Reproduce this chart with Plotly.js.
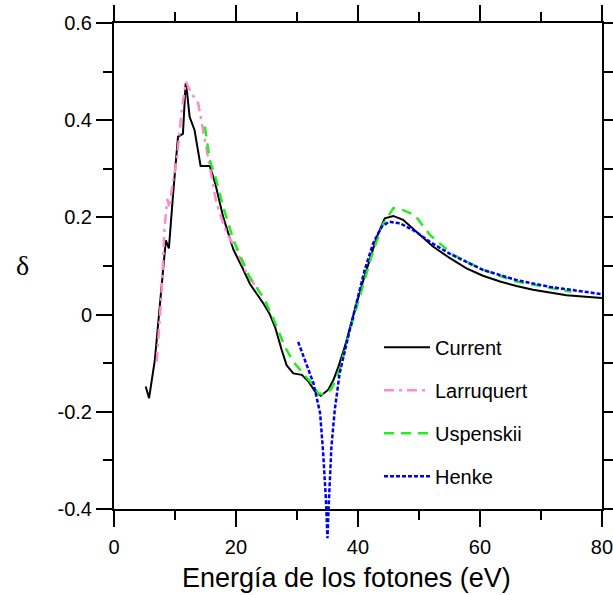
<!DOCTYPE html>
<html>
<head>
<meta charset="utf-8">
<script src="https://cdn.plot.ly/plotly-3.0.1.min.js"></script>
<style>html,body{margin:0;padding:0;background:#fff;}#chart{width:613px;height:595px;}</style>
</head>
<body>
<div id="chart"></div>
<script>
// Current (black solid)
var curE = [5.2, 5.75, 6.7, 7.5, 8.1, 8.5, 9.0, 9.7, 10.5, 11.3, 11.75, 12.0, 12.4, 13.2, 14.2, 15.7, 16.6, 17.9, 19.6, 21.0, 22.3, 23.4, 24.5, 25.5, 26.4, 27.5, 28.3, 29.4, 30.8, 31.9, 33.0, 33.9, 35.1, 36.0, 36.8, 37.8, 38.7, 39.8, 40.9, 42.0, 43.1, 44.4, 45.8, 47.4, 49.6, 52.3, 55.1, 57.8, 60.5, 63.3, 66.0, 68.7, 74.2, 80];
var curD = [-0.148, -0.172, -0.093, 0.009, 0.099, 0.153, 0.136, 0.25, 0.366, 0.372, 0.476, 0.455, 0.407, 0.38, 0.306, 0.306, 0.27, 0.201, 0.133, 0.098, 0.063, 0.043, 0.023, 0.002, -0.025, -0.073, -0.104, -0.121, -0.124, -0.138, -0.159, -0.167, -0.155, -0.134, -0.107, -0.068, -0.025, 0.024, 0.071, 0.118, 0.16, 0.198, 0.203, 0.195, 0.171, 0.14, 0.116, 0.095, 0.080, 0.068, 0.059, 0.051, 0.04, 0.034];
// Larruquert (pink dash-dot)
var larE = [7.0, 7.8, 8.3, 8.75, 9.1, 9.6, 10.3, 11.1, 11.8, 12.7, 13.8, 14.8, 15.7, 16.8, 18.5, 20.1, 21.75, 23.1];
var larD = [-0.097, 0.044, 0.181, 0.238, 0.22, 0.27, 0.318, 0.421, 0.479, 0.455, 0.435, 0.366, 0.298, 0.229, 0.167, 0.133, 0.085, 0.061];
// Uspenskii (green dashed)
var uspE = [14.9, 15.7, 16.6, 17.9, 19.6, 22.2, 24.75, 26.7, 28.0, 29.4, 31.0, 32.4, 33.5, 34.6, 35.7, 37.0, 38.4, 40.3, 42.2, 43.9, 45.8, 47.4, 49.3, 51.8, 55.6, 60.5, 66.0, 72.0, 75.0];
var uspD = [0.387, 0.318, 0.284, 0.222, 0.153, 0.078, 0.030, -0.025, -0.066, -0.097, -0.121, -0.141, -0.162, -0.165, -0.152, -0.114, -0.045, 0.037, 0.119, 0.181, 0.219, 0.215, 0.205, 0.164, 0.123, 0.092, 0.068, 0.054, 0.047];
// Henke (blue dotted)
var henE = [30.2, 31.3, 32.7, 33.8, 34.3, 34.75, 35.0, 35.25, 35.65, 36.2, 37.0, 38.4, 39.8, 41.1, 42.5, 43.9, 45.1, 46.9, 49.3, 52.0, 55.1, 60.5, 66.0, 71.5, 80];
var henD = [-0.056, -0.093, -0.141, -0.203, -0.285, -0.381, -0.46, -0.381, -0.272, -0.196, -0.121, -0.045, 0.023, 0.092, 0.147, 0.181, 0.191, 0.188, 0.172, 0.148, 0.125, 0.092, 0.071, 0.057, 0.042];

var xTickVals = [0, 20, 40, 60, 80];
var xTickText = ['0', '20', '40', '60', '80'];
var xMinorVals = [10, 30, 50, 70];
var yTickVals = [-0.4, -0.2, 0, 0.2, 0.4, 0.6];
var yTickText = ['-0.4', '-0.2', '0', '0.2', '0.4', '0.6'];
var yMinorVals = [-0.3, -0.1, 0.1, 0.3, 0.5];
var xTitle = 'Energía de los fotones (eV)';
var yTitle = 'δ';

var FONT = 'Liberation Sans, Arial, Helvetica, sans-serif';

var traces = [
  {x: curE, y: curD, name: 'Current', mode: 'lines', legendgroup: 'a',
   line: {color: '#000000', width: 2}},
  {x: larE, y: larD, name: 'Larruquert', mode: 'lines', legendgroup: 'b',
   line: {color: '#FF8CC8', width: 2.5, dash: '10px,5px,3px,5px'}},
  {x: uspE, y: uspD, name: 'Uspenskii', mode: 'lines', legendgroup: 'c',
   line: {color: '#22EE22', width: 2.5, dash: '10px,7px'}},
  {x: henE, y: henD, name: 'Henke', mode: 'lines', legendgroup: 'd', xaxis: 'x2', yaxis: 'y2',
   line: {color: '#0000EE', width: 2.5, dash: '4px,2px'}}
];

// plot area: top 23, main bottom 509, extended bottom 555
var mainBottomFrac = (555 - 509) / 532;
var y2min = 0.6 - 532 / 486;
var xmax = 80.02;

var axisCommon = {
  showgrid: false, zeroline: false, showline: true, linecolor: '#000', linewidth: 2,
  ticks: 'outside', ticklen: 16, tickwidth: 2, tickcolor: '#000', mirror: 'ticks',
  tickmode: 'array', ticklabeloverflow: 'allow', tickfont: {family: FONT, size: 20, color: '#000'}
};

var layout = {
  width: 613, height: 595,
  margin: {l: 114, r: 11, t: 23, b: 40},
  paper_bgcolor: '#fff', plot_bgcolor: 'rgba(0,0,0,0)',
  showlegend: true,
  legend: {x: 0.543, y: 0.427, xanchor: 'left', yanchor: 'top', traceorder: 'grouped',
           tracegroupgap: 14, itemwidth: 46, bgcolor: 'rgba(0,0,0,0)', borderwidth: 0,
           font: {family: FONT, size: 20, color: '#000'}},
  xaxis: Object.assign({}, axisCommon, {
    domain: [0, 1], range: [0, xmax], anchor: 'y',
    tickvals: xTickVals, ticktext: xTickText, ticklabelstandoff: 3,
    minor: {tickmode: 'array', tickvals: xMinorVals, ticks: 'outside', ticklen: 9, tickwidth: 2, tickcolor: '#000'}
  }),
  yaxis: Object.assign({}, axisCommon, {
    domain: [mainBottomFrac, 1], range: [-0.4, 0.6], anchor: 'x',
    tickvals: yTickVals, ticktext: yTickText,
    minor: {tickmode: 'array', tickvals: yMinorVals, ticks: 'outside', ticklen: 9, tickwidth: 2, tickcolor: '#000'}
  }),
  xaxis2: {domain: [0, 1], range: [0, xmax], anchor: 'y2', visible: false, showgrid: false, zeroline: false},
  yaxis2: {domain: [0, 1], range: [y2min, 0.6], anchor: 'x2', visible: false, showgrid: false, zeroline: false},
  annotations: [
    {text: yTitle, xref: 'paper', yref: 'paper', x: (22 - 114) / 488, y: (555 - 265) / 532,
     xanchor: 'center', yanchor: 'middle', showarrow: false,
     font: {family: 'Liberation Serif, Times New Roman, serif', size: 28, color: '#000'}},
    {text: xTitle, xref: 'paper', yref: 'paper', x: (346.5 - 114) / 488, y: (555 - 578) / 532,
     xanchor: 'center', yanchor: 'middle', showarrow: false,
     font: {family: FONT, size: 27, color: '#000'}}
  ]
};

Plotly.newPlot('chart', traces, layout, {staticPlot: true, displayModeBar: false});
</script>
</body>
</html>
